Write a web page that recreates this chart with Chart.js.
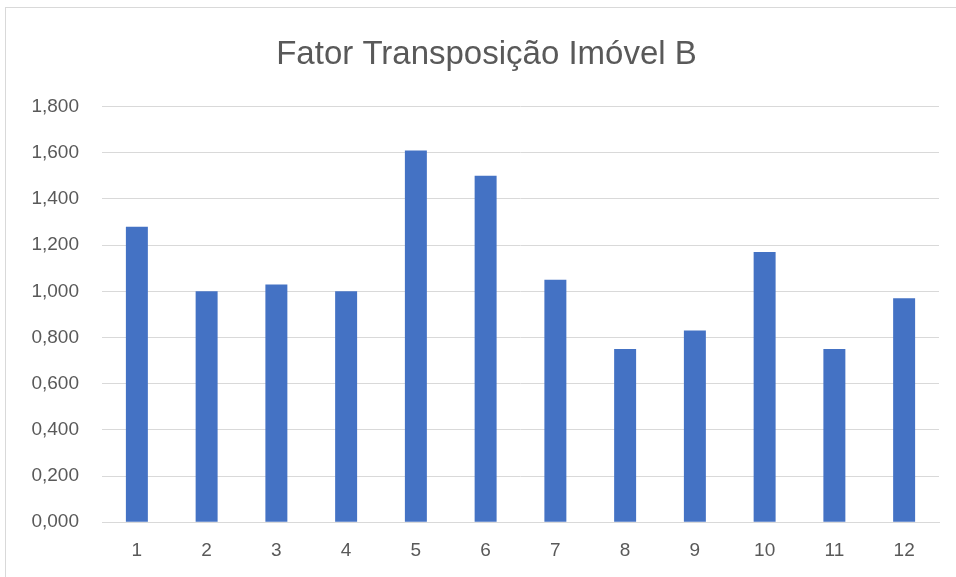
<!DOCTYPE html>
<html>
<head>
<meta charset="utf-8">
<script src="https://cdn.jsdelivr.net/npm/chart.js@4/dist/chart.umd.min.js"></script>
<style>
    html, body { margin: 0; padding: 0; background: #ffffff; }
    #wrap { position: absolute; left: 0; top: 0; width: 956px; height: 577px; }
    #frame { position: absolute; left: 5px; top: 7px; width: 1000px; height: 600px;
             border-left: 1px solid #d9d9d9; border-top: 1px solid #d9d9d9; pointer-events: none; }
</style>
</head>
<body>
<div id="wrap">
    <canvas id="chart" width="956" height="577"></canvas>
</div>
<div id="frame"></div>
<script>
// chart data
const chartTitle = "Fator Transposição Imóvel B";
const categories = ["1", "2", "3", "4", "5", "6", "7", "8", "9", "10", "11", "12"];
const fatorValues = [1.28, 1.00, 1.03, 1.00, 1.61, 1.50, 1.05, 0.75, 0.83, 1.17, 0.75, 0.97];
const yTicks = [0, 0.2, 0.4, 0.6, 0.8, 1.0, 1.2, 1.4, 1.6, 1.8];

const textColor = "#595959";
const gridColor = "#d9d9d9";
const labelFont = { family: "'Liberation Sans', Arial, sans-serif", size: 19 };

// Excel centres the title on the whole chart frame, not on the plot, so nudge it right a bit
const titleShift = {
    id: "titleShift",
    afterLayout(chart) {
        if (chart.titleBlock) {
            chart.titleBlock.left += 8;
            chart.titleBlock.right += 8;
        }
    },
};

document.addEventListener("DOMContentLoaded", () => {
    const ctx = document.getElementById("chart");

    new Chart(ctx, {
        type: "bar",
        data: {
            labels: categories,
            datasets: [
                {
                    label: chartTitle,
                    data: fatorValues,
                    backgroundColor: "#4472c4",
                    borderWidth: 0,
                    barPercentage: 0.315,
                    categoryPercentage: 1.0,
                },
            ],
        },
        options: {
            responsive: false,
            animation: false,
            layout: {
                padding: { left: 18, right: 17, top: 0, bottom: -2 },
            },
            plugins: {
                legend: { display: false },
                tooltip: { enabled: false },
                title: {
                    display: true,
                    text: chartTitle,
                    color: textColor,
                    font: { family: "'Liberation Sans', Arial, sans-serif", size: 33, weight: "normal" },
                    padding: { top: 35, bottom: 32 },
                },
            },
            scales: {
                x: {
                    grid: { display: false, drawTicks: false },
                    border: { display: true, color: gridColor, width: 1 },
                    ticks: { color: textColor, font: labelFont, padding: 17, maxRotation: 0 },
                },
                y: {
                    min: 0,
                    max: 1.8,
                    afterBuildTicks: (scale) => {
                        scale.ticks = yTicks.map(v => ({ value: v }));
                    },
                    afterFit: (scale) => {
                        scale.width = 84;
                    },
                    grid: { color: gridColor, lineWidth: 1, drawTicks: false },
                    border: { display: false },
                    ticks: {
                        color: textColor,
                        font: labelFont,
                        padding: 23,
                        callback: (value) => value.toFixed(3).replace(".", ","),
                    },
                },
            },
        },
        plugins: [titleShift],
    });
});
</script>
</body>
</html>
